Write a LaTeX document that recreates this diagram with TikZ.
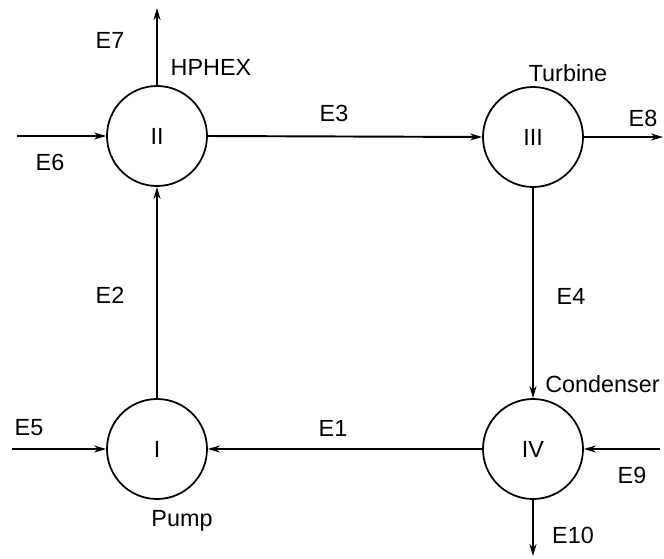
\documentclass[tikz,border=0pt]{standalone}
\usepackage{fontspec}
\setmainfont{Liberation Sans}
\usepackage{tikz}
\usetikzlibrary{arrows.meta,positioning,calc}

\begin{document}
\begin{tikzpicture}[
  >=Stealth, font=\fontsize{13.3}{16}\selectfont,
  unit/.style={draw=black, circle, line width=1pt, minimum size=2.0cm,
               inner sep=0pt, fill=white},
  arr/.style={-{Stealth[length=2.4mm, width=1.4mm]}, line width=1.1pt, draw=black},
  lbl/.style={inner sep=0pt},
]
\useasboundingbox (0.00, 0.00) rectangle (13.28, 11.16);

% Units
\node[unit] (pump) at (3.14, 2.18) {I};
\node[unit] (hphex) at (3.14, 8.44) {II};
\node[unit] (turb) at (10.66, 8.42) {III};
\node[unit] (cond) at (10.66, 2.18) {IV};

% Free ends of the streams
\coordinate (e5in) at (0.24, 2.18);
\coordinate (e6in) at (0.34, 8.44);
\coordinate (e7out) at (3.14, 11.00);
\coordinate (e8out) at (13.26, 8.42);
\coordinate (e9in) at (13.20, 2.18);
\coordinate (e10out) at (10.66, 0.04);

% Main cycle
\draw[arr] (pump.north) -- (hphex.south);
\draw[arr] (hphex.east) -- (turb.west);
\draw[arr] (turb.south) -- (cond.north);
\draw[arr] (cond.west) -- (pump.east);

% Inlets and outlets
\draw[arr] (e5in) -- (pump.west);
\draw[arr] (e6in) -- (hphex.west);
\draw[arr] (hphex.north) -- (e7out);
\draw[arr] (turb.east) -- (e8out);
\draw[arr] (e9in) -- (cond.east);
\draw[arr] (cond.south) -- (e10out);

% Stream labels
\node[lbl] (l1) at (6.66, 2.60) {E1};
\node[lbl] (l2) at (2.20, 5.26) {E2};
\node[lbl] (l3) at (6.68, 8.90) {E3};
\node[lbl] (l4) at (11.42, 5.24) {E4};
\node[lbl] (l5) at (0.58, 2.60) {E5};
\node[lbl] (l6) at (1.00, 7.92) {E6};
\node[lbl] (l7) at (2.20, 10.36) {E7};
\node[lbl] (l8) at (12.86, 8.80) {E8};
\node[lbl] (l9) at (12.64, 1.66) {E9};
\node[lbl] (l10) at (11.46, 0.46) {E10};

% Unit names
\node[lbl] (npump) at (3.64, 0.74) {Pump};
\node[lbl] (nhphex) at (4.22, 9.82) {HPHEX};
\node[lbl] (nturb) at (11.36, 9.70) {Turbine};
\node[lbl, anchor=west] (ncond) at (10.90, 3.48) {Condenser};

\end{tikzpicture}
\end{document}
